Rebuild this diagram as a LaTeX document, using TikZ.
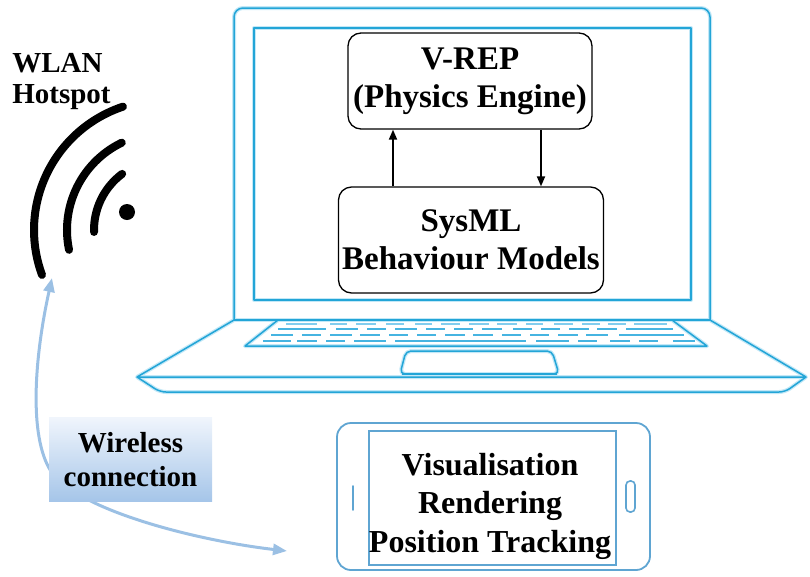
\documentclass[tikz,border=0pt]{standalone}
\usepackage{fontspec}
\setmainfont{Liberation Serif}
\usetikzlibrary{arrows.meta}
\definecolor{laptopblue}{RGB}{35,165,215}
\definecolor{laptopglow}{RGB}{195,232,247}
\definecolor{keyblue}{RGB}{70,180,225}
\definecolor{keyfaint}{RGB}{130,205,238}
\definecolor{phoneblue}{RGB}{95,165,210}
\definecolor{linkblue}{RGB}{155,192,228}
\definecolor{shadetop}{RGB}{240,245,252}
\definecolor{shadebot}{RGB}{165,197,233}
\begin{document}
\begin{tikzpicture}[x=1pt,y=-1pt,
  glow/.style={draw=laptopglow,line width=4pt,line join=round},
  laptop/.style={draw=laptopblue,line width=1.5pt,line join=round},
  keyrow/.style={draw=keyblue,line width=2pt},
  modelbox/.style={draw=black,line width=1.3pt,rounded corners=13pt,fill=white,
    inner sep=2pt,align=center,font=\bfseries\fontsize{33}{38}\selectfont},
  flow/.style={-{Triangle[length=10pt,width=8pt]},line width=1.8pt},
  caption/.style={align=center,inner sep=0pt,font=\bfseries\fontsize{29}{34}\selectfont},
  phonebody/.style={draw=phoneblue,line width=1.8pt,rounded corners=14pt,
    minimum width=313pt,minimum height=147pt,inner sep=0pt},
  phonescreen/.style={draw=phoneblue,line width=1.6pt,
    minimum width=247pt,minimum height=134pt,inner sep=0pt},
  link/.style={draw=linkblue,line width=3pt,
    {Triangle[length=14pt,width=11pt]}-{Triangle[length=14pt,width=11pt]}},
  wave/.style={line width=8pt,line cap=round}
]
\useasboundingbox (0,0) rectangle (810,576);

% ---------- laptop outline (soft halo first, then the line) ----------
\foreach \s in {glow,laptop} {
  \draw[\s,rounded corners=9pt] (234,320) -- (234,8) -- (710,8) -- (710,320);
  \draw[\s] (234,320) -- (710,320);
  \draw[\s] (254,28) rectangle (691,300);
  \draw[\s] (234,320) -- (137,377) -- (806,377) -- (710,320);
  \draw[\s,rounded corners=6pt] (137,377) -- (160,392) -- (785,392) -- (806,377);
  \draw[\s] (278,320) -- (245,346) -- (707,346) -- (672,320);
  \draw[\s,rounded corners=5pt] (400,374) -- (406,351) -- (552,351) -- (559,374) -- cycle;
}
\draw[laptopblue,line width=2.6pt] (402,374) -- (557,374);

% ---------- keyboard rows ----------
\foreach \a/\b in {286/317,330/347,356/376,386/404,415/432,441/460,469/489,
                   497/517,526/543,554/573,582/600,608/626,634/667}
  \draw[keyrow,draw=keyfaint] (\a,324) -- (\b,324);
\foreach \a/\b in {278/326,336/358,367/386,395/417,426/445,454/473,482/502,
                   513/532,541/560,569/589,597/617,626/673}
  \draw[keyrow] (\a,329) -- (\b,329);
\foreach \a/\b in {271/293,302/321,330/352,360/380,389/408,417/436,445/465,
                   473/493,502/521,530/549,558/578,586/608,619/684}
  \draw[keyrow] (\a,335) -- (\b,335);
\foreach \a/\b in {263/291,297/317,326/345,354/386,395/526,536/569,578/597,
                   610/630,639/658,673/695}
  \draw[keyrow] (\a,341) -- (\b,341);

% ---------- models running on the laptop ----------
\node[modelbox,minimum width=244pt,minimum height=96pt] (vrep) at (470,81)
  {V-REP\\(Physics Engine)};
\node[modelbox,minimum width=265pt,minimum height=106pt] (sysml) at (471,240)
  {SysML\\Behaviour Models};
\coordinate (upline) at (393,0);
\coordinate (downline) at (541,0);
\draw[flow] (upline |- sysml.north) -- (upline |- vrep.south);
\draw[flow] (downline |- vrep.south) -- (downline |- sysml.north);

% ---------- WLAN hotspot symbol ----------
\coordinate (dot) at (127,212);
\coordinate (focus) at (164,230);
\fill (dot) circle[radius=8];
\draw[wave] (focus) ++(-126.7:70) arc[start angle=-126.7,end angle=-181.6,radius=70];
\draw[wave] (focus) ++(-115.8:97) arc[start angle=-115.8,end angle=-191.8,radius=97];
\draw[wave] (focus) ++(-108.4:130) arc[start angle=-108.4,end angle=-200.2,radius=130];
\node[caption,align=left,font=\bfseries\fontsize{29}{31}\selectfont] (wlan)
  at (61.5,82) {WLAN\\Hotspot};

% ---------- smartphone ----------
\node[phonebody] (phone) at (493.5,496.5) {};
\node[phonescreen] (screen) at (492.5,498) {};
\draw[phoneblue,line width=1.8pt,line cap=round] (353,486) -- (353,510);
\draw[phoneblue,line width=1.6pt,rounded corners=4pt] (626,481) rectangle (635,512);
\node[align=center,inner sep=0pt,font=\bfseries\fontsize{32}{38.5}\selectfont]
  (apps) at (490,506) {Visualisation\\Rendering\\Position Tracking};

% ---------- wireless link ----------
\coordinate (hotspot) at (52,278);
\coordinate (edge) at (49,468);
\coordinate (arrival) at (287,551);
\draw[link] (hotspot) .. controls (36,350) and (28,430) .. (edge)
  .. controls (72,510) and (200,541) .. (arrival);
\node[caption,minimum width=163pt,minimum height=84pt,
  top color=shadetop,bottom color=shadebot] (wireless) at (130.5,459.5)
  {Wireless\\connection};
\end{tikzpicture}
\end{document}
